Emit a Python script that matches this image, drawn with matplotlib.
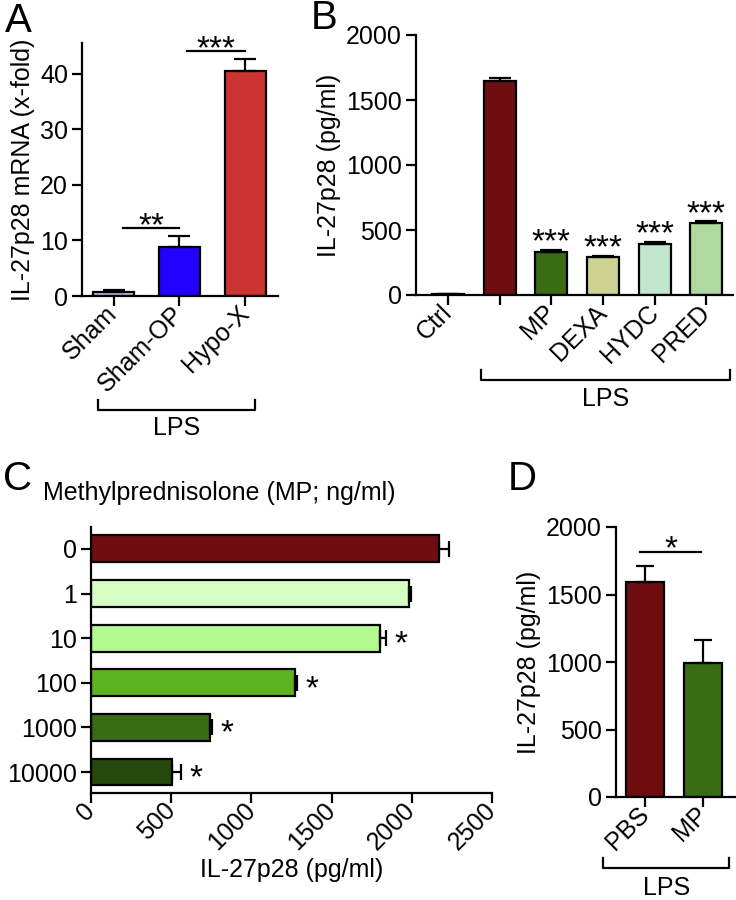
import numpy as np
import matplotlib.pyplot as plt

plt.rcParams['font.family'] = ['Liberation Sans', 'DejaVu Sans']
plt.rcParams['font.size'] = 18

W, H = 736, 900

# panel A: IL-27p28 mRNA
a_groups = ["Sham", "Sham-OP", "Hypo-X"]
a_values = [0.8, 8.8, 40.5]
a_errors = [0.3, 2.0, 2.2]
a_colors = ["#b3c3e6", "#2200ff", "#cc3333"]

# panel B: steroids
b_groups = ["Ctrl", "", "MP", "DEXA", "HYDC", "PRED"]
b_values = [5, 1645, 330, 290, 395, 555]
b_errors = [0, 22, 18, 12, 15, 15]
b_colors = ["#ffffff", "#6e0e10", "#3a6b15", "#cdd192", "#c0e6cc", "#b0d9a0"]
b_marks = ["", "", "***", "***", "***", "***"]

# panel C: MP dose response
c_doses = ["0", "1", "10", "100", "1000", "10000"]
c_values = [2170, 1980, 1800, 1270, 740, 505]
c_errors = [65, 12, 40, 15, 15, 55]
c_colors = ["#6e0e10", "#d6ffc4", "#b3f98f", "#5cb31f", "#3a6b15", "#264a0e"]
c_marks = ["", "", "*", "*", "*", "*"]

# panel D: in vivo
d_groups = ["PBS", "MP"]
d_values = [1590, 990]
d_errors = [120, 175]
d_colors = ["#6e0e10", "#3a6b15"]

LW = 1.6
STAR = 24


def px_axes(fig, left, top, right, bottom):
    return fig.add_axes([left / W, 1 - bottom / H, (right - left) / W, (bottom - top) / H])


def style(ax):
    for s in ["top", "right"]:
        ax.spines[s].set_visible(False)
    for s in ["left", "bottom"]:
        ax.spines[s].set_linewidth(LW)
    ax.tick_params(width=LW, length=7, labelsize=18, pad=3)


def bracket(ax, x0, x1, ybot, ytop, label, ylab):
    tr = ax.get_xaxis_transform()
    ax.plot([x0, x0, x1, x1], [ytop, ybot, ybot, ytop], color="black", lw=LW,
            transform=tr, clip_on=False)
    ax.text((x0 + x1) / 2, ylab, label, transform=tr, ha="center", va="center", fontsize=18)


fig = plt.figure(figsize=(W / 100, H / 100), dpi=100)

# ---- A ----
ax = px_axes(fig, 82, 43, 278, 296)
x = np.arange(len(a_values))
ax.bar(x, a_values, width=0.62, color=a_colors, edgecolor="black", linewidth=LW,
       yerr=[np.zeros(len(a_errors)), a_errors],
       error_kw=dict(ecolor="black", elinewidth=LW, capsize=8, capthick=LW))
ax.set_xlim(-0.48, 2.5)
ax.set_ylim(0, 45.5)
ax.set_yticks([0, 10, 20, 30, 40])
ax.set_xticks(x)
ax.set_xticklabels(a_groups, rotation=45, ha="right", va="center", rotation_mode="anchor")
ax.tick_params(axis="x", pad=10)
ax.set_ylabel("IL-27p28 mRNA (x-fold)", fontsize=18, labelpad=4)
style(ax)
ax.plot([0.15, 1.0], [12.2, 12.2], color="black", lw=LW, clip_on=False)
ax.text(0.58, 12.5, "**", ha="center", va="center", fontsize=STAR)
ax.plot([1.12, 2.0], [44, 44], color="black", lw=LW, clip_on=False)
ax.text(1.56, 44.3, "***", ha="center", va="center", fontsize=STAR)
bracket(ax, -0.24, 2.15, -0.45, -0.41, "LPS", -0.52)

# ---- B ----
ax = px_axes(fig, 416, 35, 733, 295)
x = np.arange(len(b_values))
ax.bar(x, b_values, width=0.62, color=b_colors, edgecolor="black", linewidth=LW,
       yerr=[np.zeros(len(b_errors)), b_errors],
       error_kw=dict(ecolor="black", elinewidth=LW, capsize=8, capthick=LW))
ax.set_xlim(-0.62, 5.52)
ax.set_ylim(0, 2000)
ax.set_yticks([0, 500, 1000, 1500, 2000])
ax.set_xticks(x)
ax.set_xticklabels(b_groups, rotation=45, ha="right", va="center", rotation_mode="anchor")
ax.tick_params(axis="x", pad=10)
ax.set_ylabel("IL-27p28 (pg/ml)", fontsize=18, labelpad=4)
style(ax)
for i, m in enumerate(b_marks):
    if m:
        ax.text(x[i], b_values[i] + b_errors[i] + 50, m, ha="center", va="center",
                fontsize=STAR)
bracket(ax, 0.64, 5.47, -0.327, -0.29, "LPS", -0.40)

# ---- C ----
ax = px_axes(fig, 91, 527, 492, 793)
y = np.arange(len(c_values))
ax.barh(y, c_values, height=0.6, color=c_colors, edgecolor="black", linewidth=LW,
        xerr=[np.zeros(len(c_errors)), c_errors],
        error_kw=dict(ecolor="black", elinewidth=LW, capsize=5.5, capthick=LW))
ax.set_ylim(5.47, -0.49)
ax.set_xlim(0, 2500)
ax.set_yticks(y)
ax.set_yticklabels(c_doses)
ax.set_xticks([0, 500, 1000, 1500, 2000, 2500])
ax.set_xticklabels(["0", "500", "1000", "1500", "2000", "2500"], rotation=45,
                   ha="right", va="center", rotation_mode="anchor")
ax.tick_params(axis="x", pad=10)
ax.set_xlabel("IL-27p28 (pg/ml)", fontsize=18, labelpad=2)
style(ax)
for i, m in enumerate(c_marks):
    if m:
        ax.text(c_values[i] + c_errors[i] + 55, y[i] + 0.15, m, ha="left", va="center",
                fontsize=STAR)
fig.text(43 / W, 1 - 493 / H, "Methylprednisolone (MP; ng/ml)", ha="left", va="center",
         fontsize=18)

# ---- D ----
ax = px_axes(fig, 616, 527, 735, 797)
x = np.arange(len(d_values))
ax.bar(x, d_values, width=0.64, color=d_colors, edgecolor="black", linewidth=LW,
       yerr=[np.zeros(len(d_errors)), d_errors],
       error_kw=dict(ecolor="black", elinewidth=LW, capsize=6.5, capthick=LW))
ax.set_xlim(-0.5, 1.55)
ax.set_ylim(0, 2000)
ax.set_yticks([0, 500, 1000, 1500, 2000])
ax.set_xticks(x)
ax.set_xticklabels(d_groups, rotation=45, ha="right", va="center", rotation_mode="anchor")
ax.tick_params(axis="x", pad=10)
ax.set_ylabel("IL-27p28 (pg/ml)", fontsize=18, labelpad=4)
style(ax)
ax.plot([-0.09, 0.97], [1815, 1815], color="black", lw=LW, clip_on=False)
ax.text(0.44, 1835, "*", ha="center", va="center", fontsize=STAR)
bracket(ax, -0.72, 1.45, -0.263, -0.226, "LPS", -0.337)

# panel letters
for lab, lx, ly, ha in [("A", 5, 32, "left"), ("B", 337, 29, "right"),
                        ("C", 3, 490, "left"), ("D", 508, 490, "left")]:
    fig.text(lx / W, 1 - ly / H, lab, fontsize=29, ha=ha, va="baseline")

fig.savefig("out.png", dpi=100)
